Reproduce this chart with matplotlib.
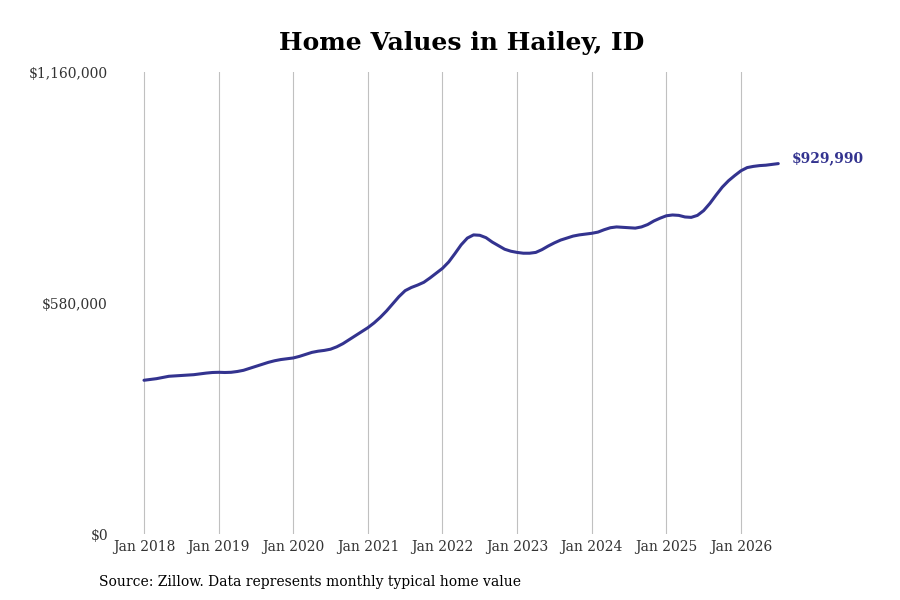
import matplotlib
matplotlib.use("Agg")
import matplotlib.pyplot as plt
import numpy as np
import pandas as pd

start_month = "2018-01"
values = [
    386000, 388000, 390000, 393000, 396000, 397000, 398000, 399000, 400000, 402000, 404000, 405500,
    406000, 405500, 406000, 408000, 411000, 416000, 421000, 426000, 431000, 435000, 438000, 440000,
    442000, 446000, 451000, 456000, 459000, 461000, 464000, 470000, 478000, 488000, 498000, 508000,
    518000, 530000, 544000, 560000, 578000, 596000, 611000, 619000, 625000, 632000, 643000, 655000,
    667000, 683000, 704000, 726000, 743000, 751000, 750000, 744000, 733000, 724000, 715000, 710000,
    707000, 705000, 705000, 707000, 714000, 723000, 731000, 738000, 743000, 748000, 751000, 753000,
    755000, 758000, 764000, 769000, 771000, 770000, 769000, 768000, 771000, 777000, 786000, 793000,
    799000, 801000, 800000, 796000, 795000, 800000, 812000, 830000, 851000, 871000, 887000, 900000,
    912000, 920000, 923000, 925000, 926000, 928000, 929990,
]
tick_labels = ["Jan 2018", "Jan 2019", "Jan 2020", "Jan 2021", "Jan 2022",
               "Jan 2023", "Jan 2024", "Jan 2025", "Jan 2026"]
y_ticks = [0, 580000, 1160000]
y_tick_labels = ["$0", "$580,000", "$1,160,000"]
title = "Home Values in Hailey, ID"
last_label = "$929,990"
source = "Source: Zillow. Data represents monthly typical home value"

plt.rcParams['font.family'] = ['DejaVu Serif']
color = "#33338f"

months = np.arange(len(values))
fig = plt.figure(figsize=(9, 6), dpi=100)
W, H = 900, 600
left, right, top, bottom = 120, 782, 72, 534
ax = fig.add_axes([left / W, 1 - bottom / H, (right - left) / W, (bottom - top) / H])

ax.plot(months, values, color=color, lw=2.2, solid_capstyle='round')
ax.set_xlim(-3.86, 102.6)
ax.set_ylim(0, 1160000)
ax.set_xticks(np.arange(0, 12 * len(tick_labels), 12))
ax.set_xticklabels(tick_labels, fontsize=10, color="#333333")
ax.set_yticks(y_ticks)
ax.set_yticklabels(y_tick_labels, fontsize=10, color="#333333")
ax.tick_params(axis='both', length=0)
ax.tick_params(axis='y', pad=8.7)
ax.tick_params(axis='x', pad=4)
ax.grid(axis='x', color="#c0c0c0", lw=0.8)
ax.grid(axis='y', visible=False)
for s in ax.spines.values():
    s.set_visible(False)

ax.annotate(last_label, xy=(months[-1], values[-1]), xytext=(9.7, 4), textcoords='offset points',
            color=color, fontsize=10, fontweight='bold', va='center', ha='left',
            annotation_clip=False)

fig.text(461.5 / W, 1 - 43 / H, title, ha='center', va='center', fontsize=18, fontweight='bold')
fig.text(99 / W, 1 - 582 / H, source, ha='left', va='center', fontsize=10)

fig.savefig("out.png", dpi=100)
